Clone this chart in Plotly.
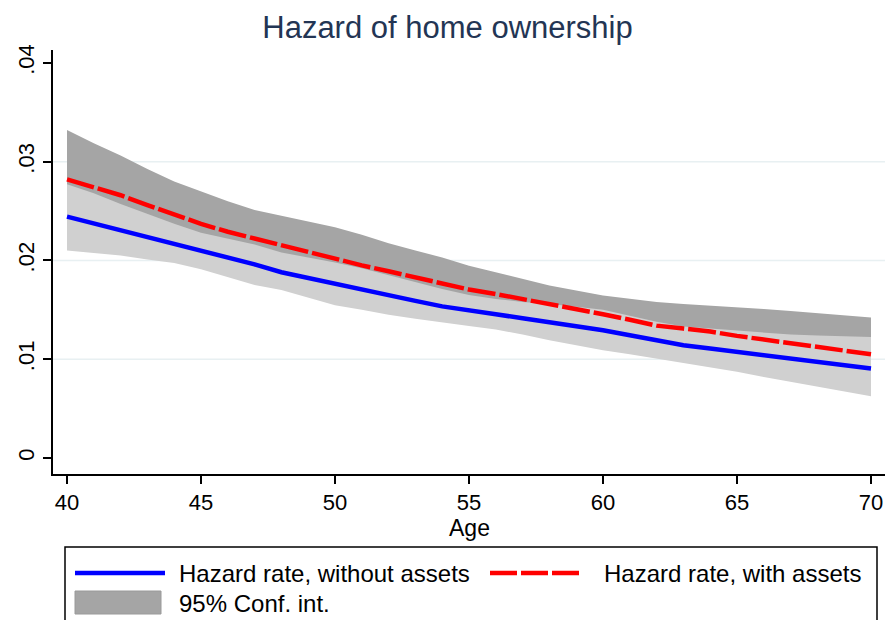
import plotly.graph_objects as go

# ---------------- data ----------------
age = list(range(40, 71))

hazard_without = [0.02444, 0.02375, 0.02303, 0.02235, 0.02168, 0.02100, 0.02034, 0.01960,
                  0.01880, 0.01820, 0.01764, 0.01705, 0.01646, 0.01590, 0.01535, 0.01490,
                  0.01455, 0.01415, 0.01377, 0.01335, 0.01293, 0.01242, 0.01192, 0.01141,
                  0.01108, 0.01074, 0.01040, 0.01007, 0.00973, 0.00940, 0.00906]
ci_without_low = [0.02101, 0.02075, 0.02050, 0.02010, 0.01975, 0.01910, 0.01830, 0.01750,
                  0.01700, 0.01620, 0.01545, 0.01500, 0.01450, 0.01410, 0.01370, 0.01335,
                  0.01300, 0.01250, 0.01192, 0.01140, 0.01091, 0.01050, 0.01007, 0.00960,
                  0.00915, 0.00872, 0.00820, 0.00771, 0.00725, 0.00680, 0.00626]
ci_without_high = [0.02770, 0.02680, 0.02570, 0.02470, 0.02370, 0.02280, 0.02220, 0.02160,
                   0.02080, 0.02030, 0.01980, 0.01920, 0.01850, 0.01780, 0.01710, 0.01650,
                   0.01610, 0.01580, 0.01560, 0.01530, 0.01500, 0.01440, 0.01380, 0.01330,
                   0.01310, 0.01290, 0.01270, 0.01250, 0.01240, 0.01230, 0.01226]

hazard_with = [0.02820, 0.02740, 0.02660, 0.02560, 0.02460, 0.02370, 0.02290, 0.02220,
               0.02150, 0.02080, 0.02010, 0.01950, 0.01890, 0.01830, 0.01770, 0.01705,
               0.01660, 0.01610, 0.01565, 0.01510, 0.01455, 0.01400, 0.01340, 0.01310,
               0.01280, 0.01236, 0.01197, 0.01158, 0.01120, 0.01084, 0.01050]
ci_with_low = [0.02320, 0.02300, 0.02260, 0.02200, 0.02120, 0.02020, 0.01950, 0.01900,
               0.01850, 0.01770, 0.01690, 0.01640, 0.01600, 0.01560, 0.01510, 0.01470,
               0.01440, 0.01400, 0.01380, 0.01330, 0.01270, 0.01190, 0.01110, 0.01060,
               0.01020, 0.00950, 0.00890, 0.00830, 0.00780, 0.00730, 0.00680]
ci_with_high = [0.03320, 0.03185, 0.03061, 0.02926, 0.02800, 0.02700, 0.02600, 0.02510,
                0.02450, 0.02390, 0.02337, 0.02260, 0.02175, 0.02100, 0.02030, 0.01945,
                0.01880, 0.01815, 0.01747, 0.01695, 0.01646, 0.01612, 0.01579, 0.01560,
                0.01545, 0.01529, 0.01508, 0.01488, 0.01466, 0.01444, 0.01421]

x_ticks = [40, 45, 50, 55, 60, 65, 70]
y_ticks = [0, 0.01, 0.02, 0.03, 0.04]
y_tick_labels = ["0", ".01", ".02", ".03", ".04"]
grid_values = [0.01, 0.02, 0.03]

title_text = "Hazard of home ownership"
x_title = "Age"
legend_labels = ["Hazard rate, without assets", "Hazard rate, with assets", "95% Conf. int."]

# ---------------- styling ----------------
W, H = 888, 620
L, R, T, B = 53, 885, 50, 474          # plot area in pixels
FONT = "Liberation Sans, Arial, sans-serif"
DARK_BAND = "#a5a5a5"
LIGHT_BAND = "#d0d0d0"
BLUE = "#0000ff"
RED = "#ff0000"
GRID = "#e8f0f2"

def pxx(x):
    return (x - L) / (R - L)

def pxy(y):
    return (B - y) / (B - T)

fig = go.Figure()

# CI band for "with assets" (dark)
fig.add_trace(go.Scatter(x=age, y=ci_with_low, mode="lines", line=dict(width=0, color=DARK_BAND),
                         showlegend=False, hoverinfo="skip"))
fig.add_trace(go.Scatter(x=age, y=ci_with_high, mode="lines", line=dict(width=0, color=DARK_BAND),
                         fill="tonexty", fillcolor=DARK_BAND, showlegend=False, hoverinfo="skip"))
# CI band for "without assets" (light)
fig.add_trace(go.Scatter(x=age, y=ci_without_low, mode="lines", line=dict(width=0, color=LIGHT_BAND),
                         showlegend=False, hoverinfo="skip"))
fig.add_trace(go.Scatter(x=age, y=ci_without_high, mode="lines", line=dict(width=0, color=LIGHT_BAND),
                         fill="tonexty", fillcolor=LIGHT_BAND, showlegend=False, hoverinfo="skip"))
# hazard lines
fig.add_trace(go.Scatter(x=age, y=hazard_without, mode="lines", name=legend_labels[0],
                         line=dict(color=BLUE, width=4.5), showlegend=False))
fig.add_trace(go.Scatter(x=age, y=hazard_with, mode="lines", name=legend_labels[1],
                         line=dict(color=RED, width=4.5, dash="28px,4px"), showlegend=False))

# grid lines (only interior ticks, below data)
shapes = []
for g in grid_values:
    shapes.append(dict(type="line", xref="paper", yref="y", x0=0, x1=1, y0=g, y1=g,
                       line=dict(color=GRID, width=1.5), layer="below"))

# hand-made legend box (Stata style)
shapes.append(dict(type="rect", xref="paper", yref="paper",
                   x0=pxx(65), x1=pxx(877), y0=pxy(547), y1=pxy(640),
                   line=dict(color="black", width=1.5), fillcolor="white", layer="above"))
shapes.append(dict(type="line", xref="paper", yref="paper",
                   x0=pxx(75), x1=pxx(165), y0=pxy(573), y1=pxy(573),
                   line=dict(color=BLUE, width=4.5)))
shapes.append(dict(type="line", xref="paper", yref="paper",
                   x0=pxx(490), x1=pxx(580), y0=pxy(573), y1=pxy(573),
                   line=dict(color=RED, width=4.5, dash="27px,4px")))
shapes.append(dict(type="rect", xref="paper", yref="paper",
                   x0=pxx(75), x1=pxx(161), y0=pxy(614), y1=pxy(591),
                   line=dict(color="#9a9a9a", width=1), fillcolor=DARK_BAND))

annotations = [
    dict(text=legend_labels[0], xref="paper", yref="paper", x=pxx(177), y=pxy(573),
         xanchor="left", yanchor="middle", showarrow=False, font=dict(family=FONT, size=24, color="black")),
    dict(text=legend_labels[1], xref="paper", yref="paper", x=pxx(602), y=pxy(573),
         xanchor="left", yanchor="middle", showarrow=False, font=dict(family=FONT, size=24, color="black")),
    dict(text=legend_labels[2], xref="paper", yref="paper", x=pxx(177), y=pxy(603),
         xanchor="left", yanchor="middle", showarrow=False, font=dict(family=FONT, size=24, color="black")),
    dict(text=x_title, xref="paper", yref="paper", x=pxx(469), y=pxy(528),
         xanchor="center", yanchor="middle", showarrow=False, font=dict(family=FONT, size=23, color="black")),
]

fig.update_layout(
    width=W, height=H,
    margin=dict(l=L, r=W - R, t=T, b=H - B, pad=0),
    paper_bgcolor="white", plot_bgcolor="white",
    title=dict(text=title_text, x=447.5 / W, xref="container", xanchor="center",
               y=1 - 27 / H, yref="container", yanchor="middle",
               font=dict(family=FONT, size=31, color="#233554")),
    shapes=shapes, annotations=annotations, showlegend=False,
    xaxis=dict(range=[40 - 14 / 26.8, 70 + 14 / 26.8], tickvals=x_ticks, showgrid=False, zeroline=False,
               showline=True, linecolor="black", linewidth=1.5, ticks="outside", ticklen=8,
               tickwidth=1.5, tickcolor="black",
               tickfont=dict(family=FONT, size=22, color="black")),
    yaxis=dict(range=[-0.00162, 0.0413], tickvals=y_ticks, ticktext=y_tick_labels, showgrid=False,
               zeroline=False, showline=True, linecolor="black", linewidth=1.5, ticks="outside",
               ticklen=8, tickwidth=1.5, tickcolor="black", tickangle=-90,
               tickfont=dict(family=FONT, size=22, color="black")),
)

fig.write_html("out.html", config={"displayModeBar": False},
               post_script="document.body.style.margin='0';")
